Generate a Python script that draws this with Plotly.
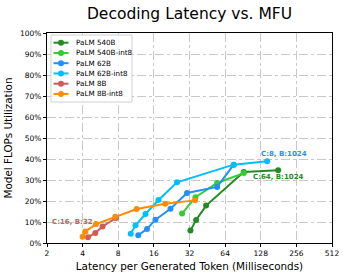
import math
import plotly.graph_objects as go

# Latency (ms) and MFU (%) per series
palm540b_x = [32.6, 36.4, 44.2, 91.9, 179.6]
palm540b_y = [5.9, 11.0, 17.8, 33.8, 34.6]
palm540b_int8_x = [27.7, 35.9, 54.8, 91.9]
palm540b_int8_y = [14.0, 21.8, 28.6, 33.3]
palm62b_x = [11.8, 14.0, 16.5, 22.1, 30.5, 54.8, 75.7]
palm62b_y = [3.7, 6.7, 11.1, 16.3, 23.8, 26.7, 37.3]
palm62b_int8_x = [10.2, 11.2, 13.6, 17.5, 25.1, 75.7, 145.0]
palm62b_int8_y = [4.4, 8.4, 13.8, 20.5, 28.9, 37.3, 38.9]
palm8b_x = [4.44, 5.12, 5.9, 7.67]
palm8b_y = [2.7, 4.8, 7.9, 11.9]
palm8b_int8_x = [4.0, 4.22, 5.19, 7.56, 11.45, 20.0, 35.6]
palm8b_int8_y = [3.0, 5.5, 9.0, 12.5, 16.2, 18.7, 20.3]

series_names = ["PaLM 540B", "PaLM 540B-int8", "PaLM 62B", "PaLM 62B-int8", "PaLM 8B", "PaLM 8B-int8"]
x_ticks = [2, 4, 8, 16, 32, 64, 128, 256, 512]
y_ticks = [0, 10, 20, 30, 40, 50, 60, 70, 80, 90, 100]

colors = ["#228B22", "#32CD32", "#1E90FF", "#00BFFF", "#CD5C5C", "#FF8C00"]
data = [(palm540b_x, palm540b_y), (palm540b_int8_x, palm540b_int8_y),
        (palm62b_x, palm62b_y), (palm62b_int8_x, palm62b_int8_y),
        (palm8b_x, palm8b_y), (palm8b_int8_x, palm8b_int8_y)]

FONT = "DejaVu Sans"
W, H = 343, 277
ML, MR, MT, MB = 47, 11, 33, 34
PW, PH = W - ML - MR, H - MT - MB


def px_to_paper(px, py):
    return (px - ML) / PW, 1 - (py - MT) / PH


fig = go.Figure()
for name, c, (xs, ys) in zip(series_names, colors, data):
    fig.add_trace(go.Scatter(x=xs, y=ys, name=name, mode="lines+markers",
                             line=dict(color=c, width=2),
                             marker=dict(color=c, size=6), showlegend=False))

annotations = [
    dict(x=145.0, y=38.9, text="<b>C:8, B:1024</b>", color="#1E90FF", xshift=17, yshift=7),
    dict(x=179.6, y=34.6, text="<b>C:64, B:1024</b>", color="#228B22", xshift=0, yshift=-7),
    dict(x=4.44, y=2.7, text="<b>C:16, B:32</b>", color="#CD5C5C", xshift=-15, yshift=15),
]
for a in annotations:
    fig.add_annotation(x=math.log10(a["x"]), y=a["y"], xref="x", yref="y", text=a["text"], showarrow=False,
                       xanchor="center", yanchor="middle", xshift=a["xshift"], yshift=a["yshift"],
                       font=dict(family=FONT, size=7, color=a["color"]))

# Legend box (drawn in paper coordinates)
bx0, by0 = px_to_paper(51, 35)
bx1, by1 = px_to_paper(132, 102)
fig.add_shape(type="rect", xref="paper", yref="paper", x0=bx0, y0=by1, x1=bx1, y1=by0,
              line=dict(color="#d0d0d0", width=1), fillcolor="rgba(255,255,255,0.85)", layer="above")
for i, (name, c) in enumerate(zip(series_names, colors)):
    ry = 42.7 + i * 10.25
    lx0, ly = px_to_paper(53.5, ry)
    lx1, _ = px_to_paper(68.5, ry)
    mx, _ = px_to_paper(61, ry)
    tx, _ = px_to_paper(74, ry)
    fig.add_shape(type="line", xref="paper", yref="paper", x0=lx0, x1=lx1, y0=ly, y1=ly,
                  line=dict(color=c, width=2), layer="above")
    fig.add_shape(type="circle", xref="paper", yref="paper", xsizemode="pixel", ysizemode="pixel",
                  xanchor=mx, yanchor=ly, x0=-3, x1=3, y0=-3, y1=3,
                  line=dict(color=c, width=0), fillcolor=c, layer="above")
    fig.add_annotation(x=tx, y=ly, xref="paper", yref="paper", text=name, showarrow=False,
                       xanchor="left", yanchor="middle", font=dict(family=FONT, size=7.2, color="black"))

fig.update_layout(
    width=W, height=H,
    margin=dict(l=ML, r=MR, t=MT, b=MB, autoexpand=False),
    paper_bgcolor="white", plot_bgcolor="white",
    font=dict(family=FONT, size=7.5, color="black"),
    title=dict(text="Decoding Latency vs. MFU", x=0.5, xref="paper", xanchor="center", yref="container",
               y=1 - 14 / H, yanchor="middle",
               font=dict(family=FONT, size=15.5, color="black")),
    showlegend=False,
)
fig.update_xaxes(type="log", range=[math.log10(2), math.log10(512)], tickvals=x_ticks,
                 ticktext=[str(v) for v in x_ticks],
                 showline=True, linecolor="black", linewidth=1, mirror=True,
                 ticks="outside", ticklen=3, tickcolor="black",
                 showgrid=True, gridcolor="#c8c8c8", griddash="dashdot", gridwidth=1,
                 zeroline=False,
                 title=dict(text="Latency per Generated Token (Milliseconds)", font=dict(family=FONT, size=10.4), standoff=5))
fig.update_yaxes(range=[0, 100], tickvals=y_ticks, ticktext=[f"{v}%" for v in y_ticks],
                 showline=True, linecolor="black", linewidth=1, mirror=True,
                 ticks="outside", ticklen=3, tickcolor="black",
                 showgrid=True, gridcolor="#c8c8c8", griddash="dashdot", gridwidth=1,
                 zeroline=False,
                 title=dict(text="Model FLOPs Utilization", font=dict(family=FONT, size=10.4), standoff=5))

fig.write_html("out.html", config={"displayModeBar": False},
               post_script="document.body.style.margin='0';document.body.style.overflow='hidden';")
